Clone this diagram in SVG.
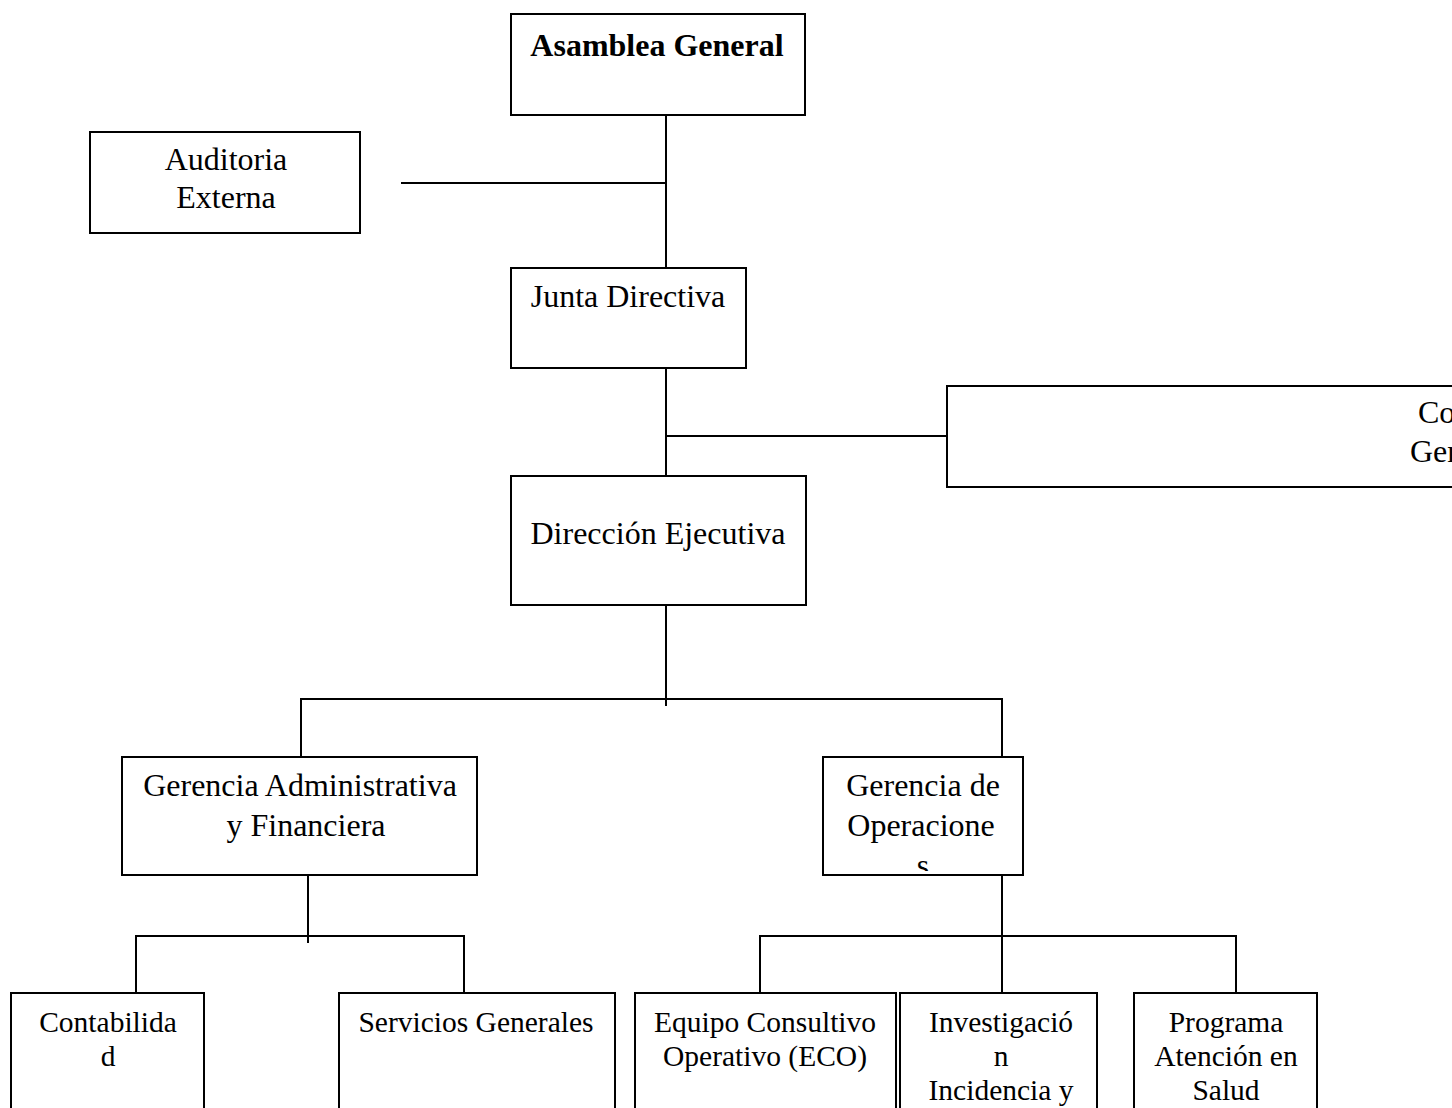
<svg xmlns="http://www.w3.org/2000/svg" width="1452" height="1108" viewBox="0 0 1452 1108">
  <style>
    .box { fill: #ffffff; stroke: #000000; stroke-width: 2; }
    .lbl { font-family: "Liberation Serif", "Times New Roman", serif; font-size: 32px; fill: #000000; text-anchor: middle; }
    .sm { font-size: 29.5px; }
    .start { text-anchor: start; }
    .bold { font-weight: bold; }
    .wire { stroke: #000000; stroke-width: 2; fill: none; }
  </style>
  <defs>
    <clipPath id="clip-ops"><rect x="824" y="758" width="198" height="113"/></clipPath>
  </defs>
  <rect width="1452" height="1108" fill="#ffffff"/>

  <!-- connectors -->
  <g id="connectors" class="wire">
    <line x1="666" y1="115" x2="666" y2="268"/>
    <line x1="401" y1="183" x2="666" y2="183"/>
    <line x1="666" y1="368" x2="666" y2="476"/>
    <line x1="666" y1="436" x2="947" y2="436"/>
    <line x1="666" y1="605" x2="666" y2="706"/>
    <line x1="300" y1="699" x2="1003" y2="699"/>
    <line x1="301" y1="699" x2="301" y2="757"/>
    <line x1="1002" y1="699" x2="1002" y2="757"/>
    <line x1="308" y1="875" x2="308" y2="943"/>
    <line x1="135" y1="936" x2="465" y2="936"/>
    <line x1="136" y1="936" x2="136" y2="993"/>
    <line x1="464" y1="936" x2="464" y2="993"/>
    <line x1="1002" y1="875" x2="1002" y2="993"/>
    <line x1="759" y1="936" x2="1237" y2="936"/>
    <line x1="760" y1="936" x2="760" y2="993"/>
    <line x1="1236" y1="936" x2="1236" y2="993"/>
  </g>

  <g id="asamblea">
    <rect class="box" x="511" y="14" width="294" height="101"/>
    <text class="lbl bold" x="657" y="56">Asamblea General</text>
  </g>

  <g id="auditoria">
    <rect class="box" x="90" y="132" width="270" height="101"/>
    <text class="lbl" x="226" y="170">Auditoria</text>
    <text class="lbl" x="226" y="208">Externa</text>
  </g>

  <g id="junta">
    <rect class="box" x="511" y="268" width="235" height="100"/>
    <text class="lbl" x="628" y="307">Junta Directiva</text>
  </g>

  <g id="comite">
    <rect class="box" x="947" y="386" width="520" height="101"/>
    <text class="lbl start" x="1418" y="423">Co</text>
    <text class="lbl start" x="1410" y="462">Ger</text>
  </g>

  <g id="direccion">
    <rect class="box" x="511" y="476" width="295" height="129"/>
    <text class="lbl" x="658" y="544">Dirección Ejecutiva</text>
  </g>

  <g id="gerencia-admin">
    <rect class="box" x="122" y="757" width="355" height="118"/>
    <text class="lbl" x="300" y="796">Gerencia Administrativa</text>
    <text class="lbl" x="306" y="836">y Financiera</text>
  </g>

  <g id="gerencia-ops">
    <rect class="box" x="823" y="757" width="200" height="118"/>
    <g clip-path="url(#clip-ops)">
      <text class="lbl" x="923" y="796">Gerencia de</text>
      <text class="lbl" x="921" y="836">Operacione</text>
      <text class="lbl" x="923" y="876">s</text>
    </g>
  </g>

  <g id="contabilidad">
    <rect class="box" x="11" y="993" width="193" height="130"/>
    <text class="lbl sm" x="108" y="1032">Contabilida</text>
    <text class="lbl sm" x="108" y="1066">d</text>
  </g>

  <g id="servicios">
    <rect class="box" x="339" y="993" width="276" height="130"/>
    <text class="lbl sm" x="476" y="1032">Servicios Generales</text>
  </g>

  <g id="eco">
    <rect class="box" x="635" y="993" width="261" height="130"/>
    <text class="lbl sm" x="765" y="1032">Equipo Consultivo</text>
    <text class="lbl sm" x="765" y="1066">Operativo (ECO)</text>
  </g>

  <g id="investigacion">
    <rect class="box" x="900" y="993" width="197" height="130"/>
    <text class="lbl sm" x="1001" y="1032">Investigació</text>
    <text class="lbl sm" x="1001" y="1066">n</text>
    <text class="lbl sm" x="1001" y="1100">Incidencia y</text>
  </g>

  <g id="programa">
    <rect class="box" x="1134" y="993" width="183" height="130"/>
    <text class="lbl sm" x="1226" y="1032">Programa</text>
    <text class="lbl sm" x="1226" y="1066">Atención en</text>
    <text class="lbl sm" x="1226" y="1100">Salud</text>
  </g>
</svg>
